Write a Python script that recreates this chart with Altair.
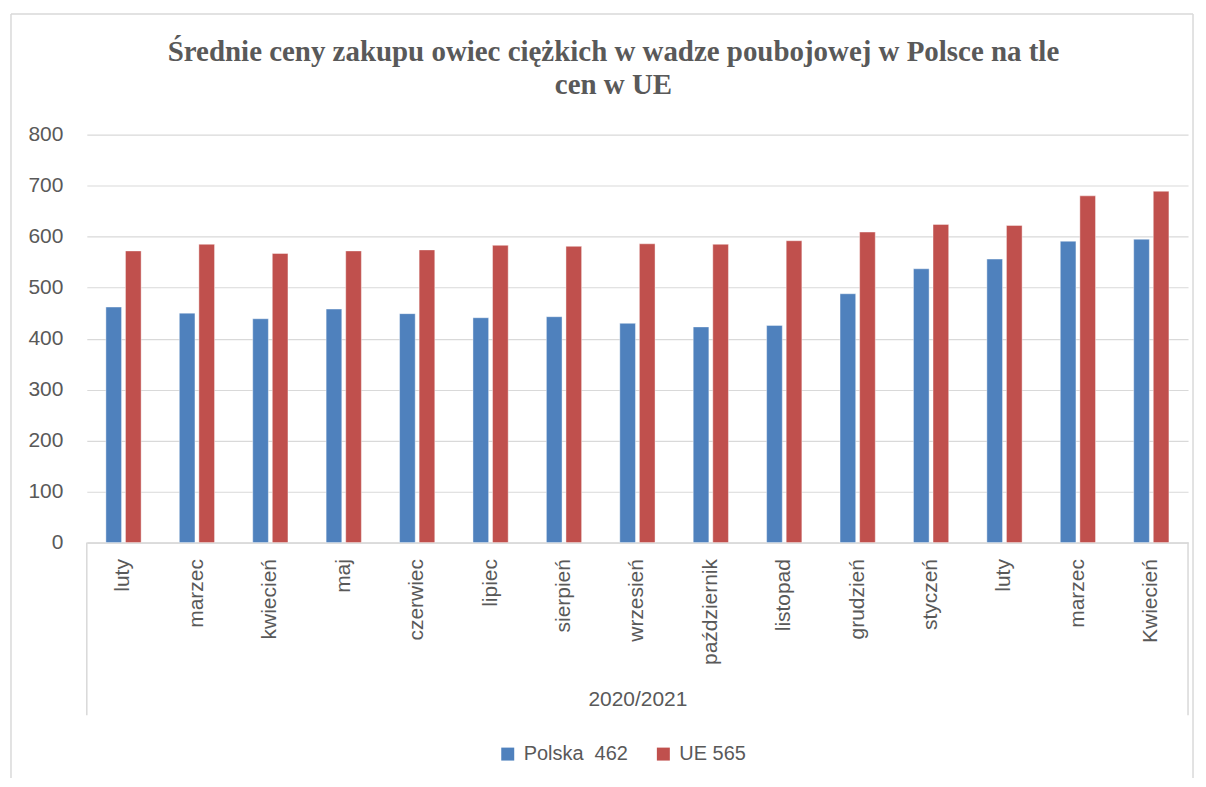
import altair as alt
import pandas as pd

months = ["luty", "marzec", "kwiecień", "maj", "czerwiec", "lipiec", "sierpień",
          "wrzesień", "październik", "listopad", "grudzień", "styczeń", "luty",
          "marzec", "Kwiecień"]
polska = [462, 450, 439, 458, 449, 441, 443, 430, 423, 426, 488, 537, 556, 591, 595]
ue = [572, 585, 567, 572, 574, 583, 581, 586, 585, 592, 609, 624, 622, 680, 689]
series = ["Polska\u00a0 462", "UE 565"]
colors = ["#4f81bd", "#c0504d"]
y_ticks = [0, 100, 200, 300, 400, 500, 600, 700, 800]
group_label = "2020/2021"
title_lines = ["Średnie ceny zakupu owiec ciężkich w wadze poubojowej w Polsce na tle",
               "cen w UE"]

rows = []
for i, m in enumerate(months):
    key = f"{i:02d}|{m}"
    rows.append({"key": key, "series": series[0], "value": polska[i]})
    rows.append({"key": key, "series": series[1], "value": ue[i]})
df = pd.DataFrame(rows)
one = pd.DataFrame({"a": [0]})

W, H = 1104, 409
FONT = "Liberation Sans"
GREY = "#595959"
LINE = "#d9d9d9"

bars = alt.Chart(df).mark_bar(stroke="white", strokeWidth=0.6, strokeOpacity=0.7).encode(
    x=alt.X("key:N", sort="ascending",
            scale=alt.Scale(paddingInner=0.52, paddingOuter=0.26),
            axis=alt.Axis(title=group_label, titleY=157, titleBaseline="middle",
                          titleFontWeight="normal", titleFontSize=21, titleColor=GREY,
                          labelAngle=270, labelAlign="right", labelBaseline="middle",
                          labelPadding=16, ticks=False, domain=True, domainColor=LINE,
                          domainWidth=1.5,
                          labelExpr="split(datum.label, '|')[1]")),
    xOffset=alt.XOffset("series:N", sort=series, scale=alt.Scale(paddingInner=0.2)),
    y=alt.Y("value:Q", scale=alt.Scale(domain=[0, 800], nice=False),
            axis=alt.Axis(values=y_ticks, grid=True, gridColor=LINE, gridWidth=1.2,
                          domain=False, ticks=False, labelPadding=24, title=None)),
    color=alt.Color("series:N", sort=series,
                    scale=alt.Scale(domain=series, range=colors),
                    legend=alt.Legend(orient="none", legendX=412, legendY=611,
                                      direction="horizontal", title=None,
                                      symbolType="square", symbolSize=169,
                                      symbolStrokeWidth=0, labelFontSize=20,
                                      labelColor=GREY, columnPadding=25,
                                      labelOffset=6, labelFont=FONT)),
)

side_l = alt.Chart(one).mark_rule(color=LINE, strokeWidth=1.5).encode(
    x=alt.value(0), y=alt.value(H), y2=alt.value(H + 173))
side_r = alt.Chart(one).mark_rule(color=LINE, strokeWidth=1.5).encode(
    x=alt.value(W), y=alt.value(H), y2=alt.value(H + 173))
frame_l = alt.Chart(one).mark_rule(color=LINE, strokeWidth=1.5).encode(
    x=alt.value(-76), y=alt.value(-121), y2=alt.value(700))
frame_t = alt.Chart(one).mark_rule(color=LINE, strokeWidth=1.5).encode(
    x=alt.value(-76), x2=alt.value(1109), y=alt.value(-121))
frame_r = alt.Chart(one).mark_rule(color=LINE, strokeWidth=1.5).encode(
    x=alt.value(1109), y=alt.value(-121), y2=alt.value(700))

chart = alt.layer(frame_l, frame_t, frame_r, side_l, side_r, bars).properties(
    width=W, height=H,
    autosize=alt.AutoSizeParams(type="none"),
    padding={"left": 79, "top": 126, "right": 10, "bottom": 235},
    background="white",
    title=alt.TitleParams(title_lines, font="Liberation Serif", fontSize=29,
                          fontWeight="bold", color=GREY, anchor="middle",
                          dx=-24, dy=123, lineHeight=33, offset=36),
).configure_view(stroke=None).configure_axis(
    labelFont=FONT, labelFontSize=21, labelColor=GREY, titleFont=FONT
)

chart.save("out.html", embed_options={"renderer": "svg", "actions": False})
